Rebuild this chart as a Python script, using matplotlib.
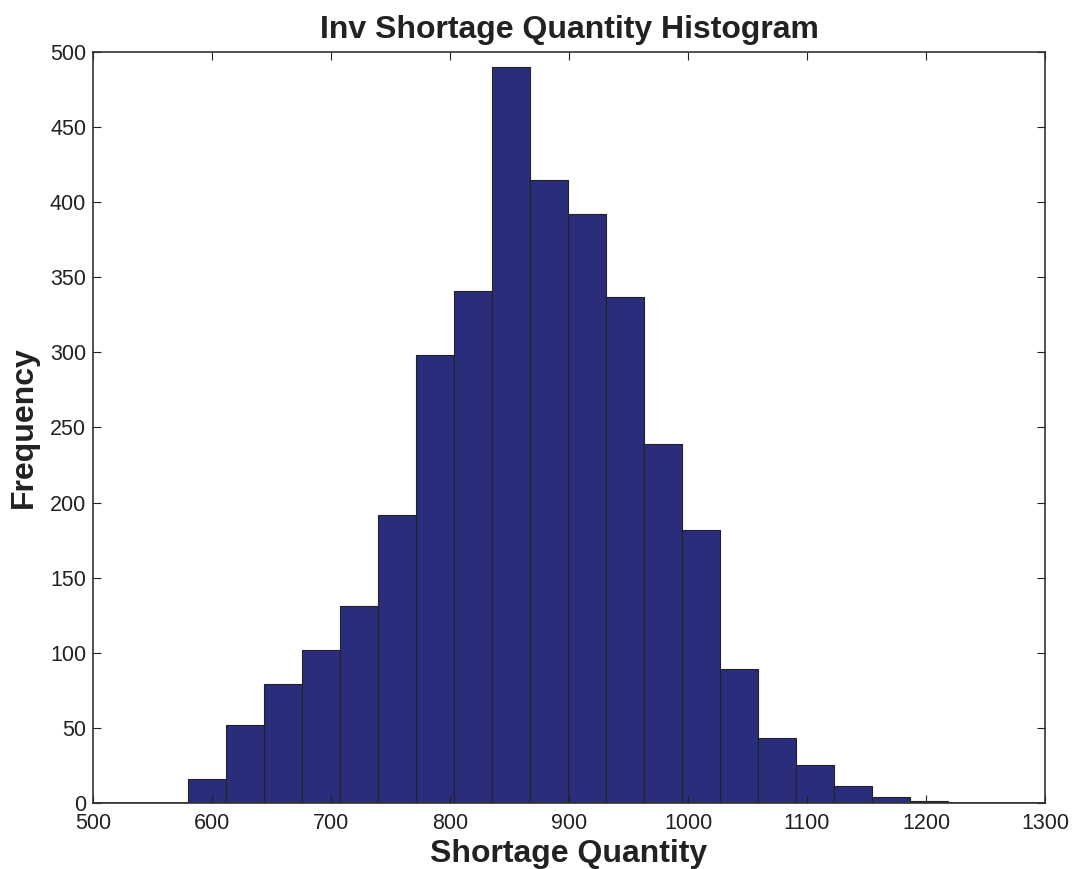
import numpy as np
import matplotlib.pyplot as plt

# histogram (20 equal bins)
bin_lo = 579.6
bin_hi = 1218.2
counts = [16, 52, 79, 102, 131, 192, 298, 341, 490, 415,
          392, 337, 239, 182, 89, 43, 25, 11, 4, 1]

xticks = [500, 600, 700, 800, 900, 1000, 1100, 1200, 1300]
yticks = [0, 50, 100, 150, 200, 250, 300, 350, 400, 450, 500]

plt.rcParams['font.family'] = ['Liberation Sans', 'DejaVu Sans']

edges = np.linspace(bin_lo, bin_hi, len(counts) + 1)
widths = np.diff(edges)

fig = plt.figure(figsize=(10.72, 8.69), dpi=100)
ax = fig.add_axes([0.0868, 0.076, 0.888, 0.8642])

ax.bar(edges[:-1], counts, width=widths, align='edge',
       color='#2a2d7c', edgecolor='#222222', linewidth=0.8)
# baseline outside the bins, like matlab draws it
ax.plot([xticks[0], xticks[-1]], [0, 0], color='#333333', lw=1.2)

ax.set_xlim(xticks[0], xticks[-1])
ax.set_ylim(yticks[0], yticks[-1])
ax.set_xticks(xticks)
ax.set_yticks(yticks)
ax.tick_params(direction='in', top=True, right=True, length=6,
               labelsize=15.5, colors='#222222')
ax.tick_params(axis='x', pad=7)
ax.tick_params(axis='y', pad=5)
for s in ax.spines.values():
    s.set_linewidth(1.2)
    s.set_color('#333333')

ax.set_title('Inv Shortage Quantity Histogram', fontsize=23, fontweight='bold',
             pad=10, color='#222222')
ax.set_xlabel('Shortage Quantity', fontsize=23, fontweight='bold', labelpad=4,
              color='#222222')
ax.set_ylabel('Frequency', fontsize=23, fontweight='bold', labelpad=8,
              color='#222222')

fig.savefig('out.png', dpi=100)
